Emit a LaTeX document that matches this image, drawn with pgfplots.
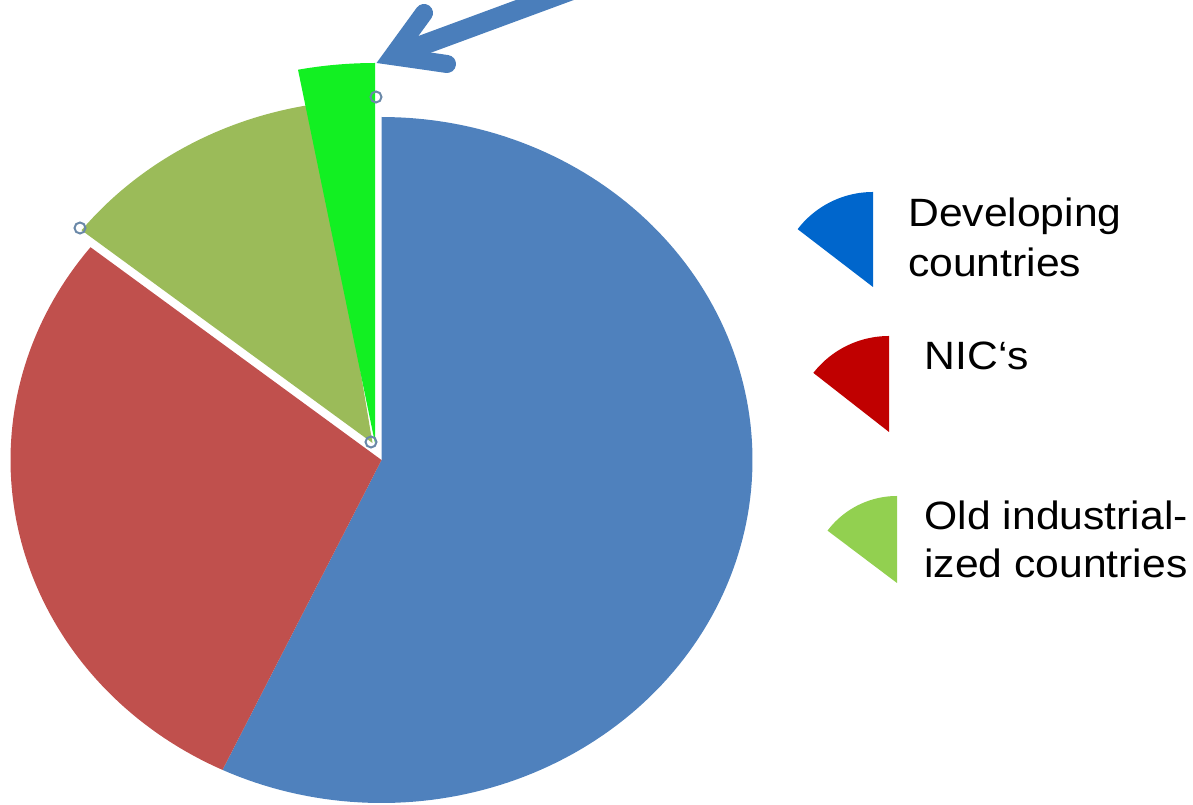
\documentclass[border=0pt]{standalone}
\usepackage{pgfplots}
\usepackage{pgfplotstable}
\pgfplotsset{compat=1.18}
\usepackage{fontspec}
\setmainfont{Liberation Sans}
\definecolor{sliceblue}{HTML}{4F81BD}
\definecolor{slicered}{HTML}{C0504D}
\definecolor{sliceolive}{HTML}{9BBB59}
\definecolor{slicegreen}{HTML}{12F022}
\definecolor{legblue}{HTML}{0066CC}
\definecolor{legred}{HTML}{C00000}
\definecolor{leggreen}{HTML}{92D050}
\definecolor{arrowblue}{HTML}{4A7EBB}
\definecolor{handlecol}{HTML}{6A88A8}
\pgfplotstableread{
slice value
Developing 57.05
NICs 28.60
Old 11.35
Highlight 3.00
}\piedata
\pgfplotstablegetelem{0}{value}\of\piedata \edef\vA{\pgfplotsretval}
\pgfplotstablegetelem{1}{value}\of\piedata \edef\vB{\pgfplotsretval}
\pgfplotstablegetelem{2}{value}\of\piedata \edef\vC{\pgfplotsretval}
\pgfplotstablegetelem{3}{value}\of\piedata \edef\vD{\pgfplotsretval}
\pgfmathsetmacro\aA{90-3.6*\vA}
\pgfmathsetmacro\aB{\aA-3.6*\vB}
\pgfmathsetmacro\aC{\aB-3.6*\vC}
\pgfmathsetmacro\aCx{\aC-2}
\pgfmathsetmacro\aD{\aC-3.6*\vD}
\newcommand\legfont{\fontsize{39.5}{47}\selectfont}
\begin{document}%
\begin{tikzpicture}
\begin{axis}[width=1193pt,height=805pt,scale only axis,hide axis,
  xmin=0,xmax=1193,ymin=0,ymax=805,clip=true]
% pie slices
\addplot[draw=none,fill=sliceblue,domain=\aA:90,samples=150,variable=\t]
  ({381.5+371*cos(\t)},{345+343*sin(\t)}) -- (381.5,345) -- cycle;
\addplot[draw=none,fill=slicered,domain=\aB:\aA,samples=80,variable=\t]
  ({381.5+371*cos(\t)},{345+343*sin(\t)}) -- (381.5,345) -- cycle;
\addplot[draw=none,fill=sliceolive,domain=\aCx:\aB,samples=40,variable=\t]
  ({372.5+371*cos(\t)},{362+343*sin(\t)}) -- (372.5,362) -- cycle;
% handle lying under the highlighted slice
\addplot[only marks,mark=o,mark size=5.5pt,
  mark options={draw=handlecol,fill=white,line width=2pt}]
  coordinates {(376,708)};
\addplot[draw=none,fill=slicegreen,domain=\aD:\aC,samples=20,variable=\t]
  ({375+411*cos(\t)},{362+380*sin(\t)}) -- (375,362) -- cycle;
% selection handles
\addplot[only marks,mark=o,mark size=5.5pt,
  mark options={draw=handlecol,fill=white,line width=2pt}]
  coordinates {(80,577) (371,363)};
% arrow
\addplot[draw=arrowblue,line width=20pt,line cap=butt]
  coordinates {(395,749.7) (590.7,821.9)};
\addplot[draw=arrowblue,line width=18pt,line cap=round,line join=miter]
  coordinates {(424,792) (392.6,748.8) (447,741)};
% legend wedges
\addplot[draw=none,fill=legblue,domain=90:142.5,samples=40,variable=\t]
  ({873+95*cos(\t)},{518+95*sin(\t)}) -- (873,518) -- cycle;
\addplot[draw=none,fill=legred,domain=90:142,samples=40,variable=\t]
  ({889+96*cos(\t)},{373+96*sin(\t)}) -- (889,373) -- cycle;
\addplot[draw=none,fill=leggreen,domain=90:143,samples=40,variable=\t]
  ({897+87*cos(\t)},{222+87*sin(\t)}) -- (897,222) -- cycle;
% legend text
\tikzset{lt/.style={anchor=base west,inner sep=0pt,font=\legfont,xscale=1.08}}
\node[lt] at (axis cs:908,578) {Developing};
\node[lt] at (axis cs:908,528) {countries};
\node[lt] at (axis cs:924.5,435) {NIC‘s};
\node[lt] at (axis cs:924.5,275) {Old industrial-};
\node[lt] at (axis cs:924,227) {ized countries};
\coordinate (bbsw) at (axis cs:0,0);
\coordinate (bbne) at (axis cs:1193,805);
\end{axis}
\pgfresetboundingbox
\path[use as bounding box] (bbsw) rectangle (bbne);
\end{tikzpicture}%
\end{document}
